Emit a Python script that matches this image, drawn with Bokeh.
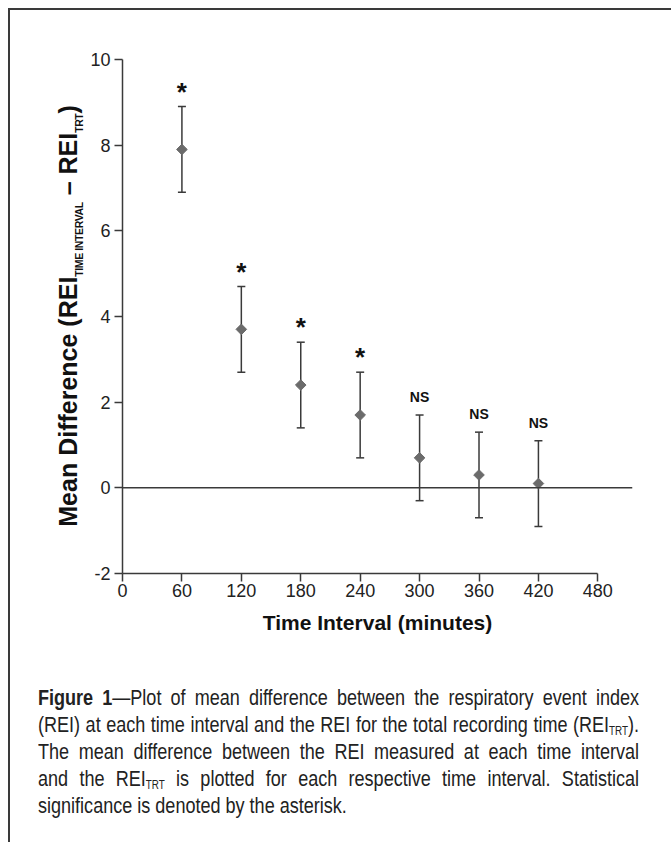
import numpy as np
from bokeh.plotting import figure
from bokeh.models import ColumnDataSource, Whisker, TeeHead, Span, Div, FixedTicker
from bokeh.layouts import column, row
from bokeh.embed import file_html
from bokeh.resources import INLINE
from bokeh.core.properties import value

# ---- data ----
minutes = [60, 120, 180, 240, 300, 360, 420]
mean_diff = [7.9, 3.7, 2.4, 1.7, 0.7, 0.3, 0.1]
upper_ci = [8.9, 4.7, 3.4, 2.7, 1.7, 1.3, 1.1]
lower_ci = [6.9, 2.7, 1.4, 0.7, -0.3, -0.7, -0.9]
significance = ["*", "*", "*", "*", "NS", "NS", "NS"]
x_ticks = [0, 60, 120, 180, 240, 300, 360, 420, 480]
y_ticks = [-2, 0, 2, 4, 6, 8, 10]

SANS = "'Liberation Sans', Arial, sans-serif"
AX = "#3a3a3a"
YLAB_W = 76

p = figure(width=660 - YLAB_W, height=655, x_range=(0, 515), y_range=(-2, 10),
           output_backend="svg", toolbar_location=None,
           min_border_left=36, min_border_right=38,
           min_border_top=49, min_border_bottom=92)
p.outline_line_color = None
p.xgrid.visible = False
p.ygrid.visible = False
p.background_fill_color = "white"
p.border_fill_color = "white"

for ax in (p.xaxis[0], p.yaxis[0]):
    ax.axis_line_color = AX
    ax.axis_line_width = 1.5
    ax.major_tick_line_color = AX
    ax.major_tick_line_width = 1.5
    ax.major_tick_out = 8
    ax.major_tick_in = 0
    ax.minor_tick_line_color = None
    ax.major_label_text_font = SANS
    ax.major_label_text_font_size = "18px"
    ax.major_label_text_color = "#222"

p.xaxis.ticker = FixedTicker(ticks=x_ticks)
p.xaxis.bounds = (0, 480)
p.xaxis.major_label_standoff = 2
p.xaxis.axis_label = "Time Interval (minutes)"
p.xaxis.axis_label_text_font = SANS
p.xaxis.axis_label_text_font_style = "bold"
p.xaxis.axis_label_text_font_size = "21px"
p.xaxis.axis_label_text_color = "#111"
p.xaxis.axis_label_standoff = 11

p.yaxis.ticker = FixedTicker(ticks=y_ticks)
p.yaxis.major_label_standoff = 4
p.yaxis.major_label_overrides = {t: str(t) for t in y_ticks}

# zero reference line
p.add_layout(Span(location=0, dimension="width", line_color=AX, line_width=1.5))

src = ColumnDataSource(dict(x=minutes, mean=mean_diff, upper=upper_ci, lower=lower_ci))
p.add_layout(Whisker(base="x", upper="upper", lower="lower", source=src,
                     line_color=AX, line_width=1.5,
                     upper_head=TeeHead(size=8, line_color=AX, line_width=1.5),
                     lower_head=TeeHead(size=8, line_color=AX, line_width=1.5)))
p.scatter("x", "mean", source=src, marker="square", angle=np.pi / 4, size=7.5,
          fill_color="#6b6b6b", line_color="#6b6b6b")

# significance markers
star_x = [m for m, s in zip(minutes, significance) if s == "*"]
star_y = [u for u, s in zip(upper_ci, significance) if s == "*"]
ns_x = [m for m, s in zip(minutes, significance) if s == "NS"]
ns_y = [u for u, s in zip(upper_ci, significance) if s == "NS"]
p.text(x=star_x, y=star_y, text=["*"] * len(star_x), text_font=value(SANS),
       text_font_style="bold", text_font_size="26px", text_align="center",
       text_baseline="alphabetic", y_offset=-15, text_color="#111")
p.text(x=ns_x, y=ns_y, text=["NS"] * len(ns_x), text_font=value(SANS),
       text_font_style="bold", text_font_size="14px", text_align="center",
       text_baseline="alphabetic", y_offset=-18, text_color="#111")

# y-axis title (rotated HTML so the subscripts are real subscripts)
ysub = "font-size:10.5px;letter-spacing:-0.4px;vertical-align:-6px;line-height:0;"
ytitle = (f"Mean Difference (REI<span style='{ysub}'>TIME INTERVAL</span> \u2013 "
          f"REI<span style='{ysub}'>TRT</span>)")
ylab = Div(text=(f'<div style="position:relative;width:{YLAB_W}px;height:655px;">'
                 f'<div style="position:absolute;left:43px;top:563px;width:514px;height:30px;'
                 f'line-height:30px;transform-origin:0 0;transform:rotate(-90deg);'
                 f'text-align:center;white-space:nowrap;font-family:{SANS};font-weight:bold;'
                 f'font-size:25px;color:#111;">{ytitle}</div></div>'),
           width=YLAB_W, height=655, margin=0)

# caption (justified, condensed)
SCALE = 0.82
WIDTH = 601
line_style = "display:block;white-space:nowrap;text-align:justify;text-align-last:justify;"
sub = '<sub style="font-size:12px;line-height:0;vertical-align:-0.25em">TRT</sub>'
caption_lines = [
    "<b>Figure 1</b>\u2014Plot of mean difference between the respiratory event index",
    "(REI) at each time interval and the REI for the total recording time (REI" + sub + ").",
    "The mean difference between the REI measured at each time interval",
    "and the REI" + sub + " is plotted for each respective time interval. Statistical",
    "significance is denoted by the asterisk.",
]
html = ""
for i, ln in enumerate(caption_lines):
    st = line_style if i < len(caption_lines) - 1 else "display:block;white-space:nowrap;text-align:left;"
    html += f'<div style="{st}">{ln}</div>'
cap = Div(text=(f'<div style="font-family:{SANS};font-size:22px;line-height:27px;'
                f'color:#222;width:{WIDTH / SCALE:.0f}px;margin-left:23px;padding-top:14px;'
                f'transform:scaleX({SCALE});transform-origin:0 0;">{html}</div>'),
          width=660, height=175)

root = column(row(ylab, p), cap,
              styles={"margin-left": "8px", "margin-top": "8px",
                      "border-left": "2px solid #3a3a3a",
                      "border-top": "2px solid #3a3a3a",
                      "background": "white"})

open("out.html", "w").write(file_html(root, INLINE))
